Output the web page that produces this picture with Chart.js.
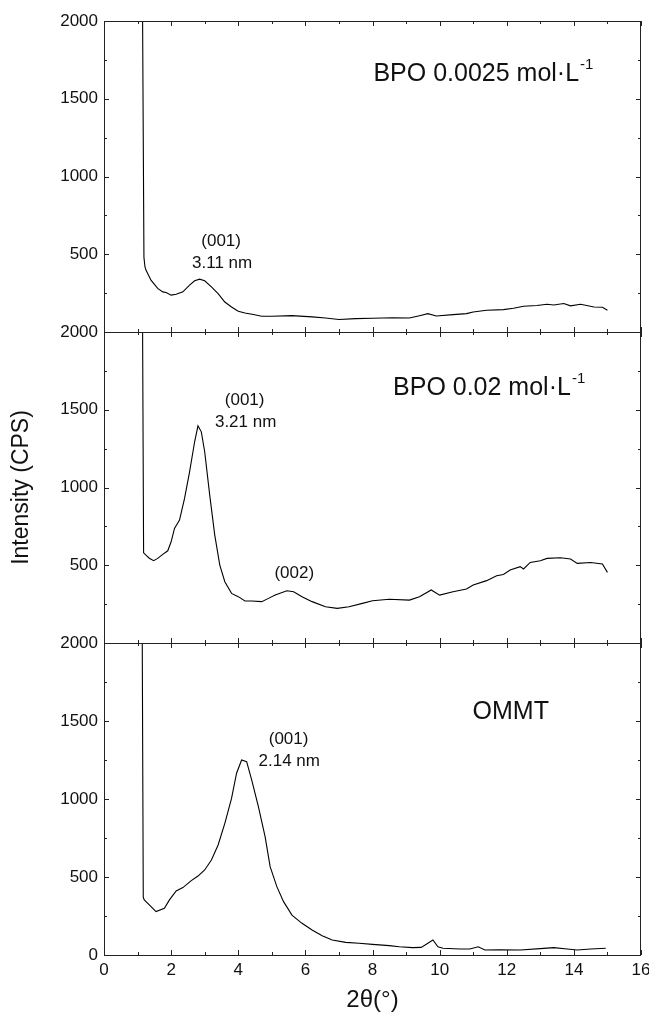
<!DOCTYPE html>
<html>
<head>
<meta charset="utf-8">
<script src="https://cdn.jsdelivr.net/npm/chart.js@4.4.1/dist/chart.umd.min.js"></script>
<style>
  html, body { margin: 0; padding: 0; background: #fff; }
  #wrap { position: relative; width: 649px; height: 1025px; }
  .painel { position: absolute; left: 0; width: 649px; }
</style>
</head>
<body>
<div id="wrap">
  <div class="painel" style="top:0px"><canvas id="p1" width="649" height="345"></canvas></div>
  <div class="painel" style="top:312px"><canvas id="p2" width="649" height="345"></canvas></div>
  <div class="painel" style="top:623px"><canvas id="p3" width="649" height="402"></canvas></div>
</div>
<script>
// =========================================================
// 1. DADOS
// =========================================================
const FONTE = "'Liberation Sans', Arial, Helvetica, sans-serif";
const TINTA = '#111';

// BPO 0.0025 mol/L
const theta1 = [1.15, 1.19, 1.22, 1.25, 1.4, 1.6, 1.75, 1.85, 2.0, 2.15, 2.35, 2.55, 2.7, 2.85, 3.0, 3.2, 3.4, 3.6, 3.8, 4.0,
  4.2, 4.45, 4.7, 5.0, 5.6, 6.2, 6.6, 7.0, 7.5, 8.0, 8.6, 9.1, 9.4, 9.65, 9.9, 10.4, 10.8, 11.0, 11.4, 11.9,
  12.2, 12.5, 12.9, 13.2, 13.4, 13.7, 13.9, 14.2, 14.6, 14.85, 15.0];
const cps1 = [2000, 480, 420, 398, 333, 280, 258, 254, 237, 243, 258, 301, 329, 340, 329, 290, 247, 193, 161, 133,
  122, 112, 101, 101, 105, 97, 90, 80, 86, 88, 92, 90, 105, 118, 103, 112, 118, 129, 140, 144,
  153, 166, 170, 178, 174, 183, 168, 178, 161, 159, 140];

// BPO 0.02 mol/L
const theta2 = [1.15, 1.18, 1.25, 1.35, 1.48, 1.6, 1.75, 1.9, 2.0, 2.1, 2.25, 2.4, 2.55, 2.7, 2.8, 2.9, 3.0, 3.15, 3.3, 3.45,
  3.6, 3.8, 4.0, 4.2, 4.4, 4.7, 4.9, 5.1, 5.45, 5.65, 5.9, 6.2, 6.6, 6.95, 7.3, 7.7, 8.0, 8.5, 9.1, 9.4,
  9.75, 10.0, 10.4, 10.8, 11.0, 11.4, 11.7, 11.9, 12.1, 12.4, 12.5, 12.7, 13.0, 13.2, 13.6, 13.9, 14.1, 14.5, 14.85, 15.0];
const cps2 = [2000, 580, 565, 545, 529, 544, 570, 593, 651, 737, 790, 930, 1101, 1294, 1397, 1358, 1230, 951, 694, 501,
  394, 319, 298, 270, 270, 266, 287, 308, 336, 330, 298, 266, 233, 223, 233, 255, 272, 281, 276, 298,
  341, 308, 330, 347, 373, 401, 433, 441, 469, 491, 476, 518, 529, 544, 548, 540, 512, 518, 508, 454];

// OMMT
const theta3 = [1.14, 1.17, 1.2, 1.35, 1.55, 1.8, 1.95, 2.15, 2.35, 2.6, 2.8, 3.0, 3.2, 3.4, 3.6, 3.8, 3.95, 4.1, 4.25, 4.4,
  4.6, 4.8, 4.95, 5.15, 5.35, 5.6, 5.9, 6.2, 6.5, 6.8, 7.2, 7.6, 8.0, 8.5, 8.8, 9.2, 9.45, 9.65, 9.8, 9.95,
  10.1, 10.6, 10.9, 11.15, 11.35, 11.8, 12.4, 13.0, 13.4, 13.8, 14.1, 14.5, 14.95];
const cps3 = [2000, 370, 353, 321, 278, 299, 353, 410, 432, 477, 506, 545, 609, 705, 844, 1004, 1165, 1250, 1239, 1122,
  951, 759, 566, 438, 342, 256, 203, 160, 124, 96, 81, 75, 68, 60, 53, 47, 49, 75, 96, 53,
  43, 38, 38, 53, 32, 34, 32, 41, 47, 38, 32, 38, 43];

// textos de cada painel: [texto, 2theta, cps, tamanho, expoente]
const notas1 = [['BPO 0.0025 mol·L', 11.29, 1669, 25, '-1'], ['(001)', 3.49, 592, 17], ['3.11 nm', 3.52, 450, 17]];
const notas2 = [['BPO 0.02 mol·L', 11.46, 1655, 25, '-1'], ['(001)', 4.19, 1568, 17], ['3.21 nm', 4.22, 1428, 17], ['(002)', 5.67, 460, 17]];
const notas3 = [['OMMT', 12.12, 1570, 25], ['(001)', 5.5, 1392, 17], ['2.14 nm', 5.52, 1252, 17]];

// =========================================================
// 2. PLUGIN: MOLDURA, TICKS PARA DENTRO E TEXTOS
// =========================================================
const moldura = {
  id: 'moldura',
  afterDraw(chart, args, opts) {
    const { ctx, chartArea: a, scales: { x, y } } = chart;
    ctx.save();
    ctx.strokeStyle = '#222';
    ctx.lineWidth = 1;
    ctx.strokeRect(a.left + 0.5, a.top + 0.5, a.right - a.left - 1, a.bottom - a.top);

    ctx.beginPath();
    for (let v = 0; v <= 2000; v += 250) {
      const py = Math.round(y.getPixelForValue(v)) + 0.5;
      const len = v % 500 === 0 ? 5 : 3;
      ctx.moveTo(a.left, py); ctx.lineTo(a.left + len, py);
      ctx.moveTo(a.right, py); ctx.lineTo(a.right - len, py);
    }
    for (let v = 0; v <= 16; v++) {
      const px = Math.round(x.getPixelForValue(v)) + 0.5;
      const len = v % 2 === 0 ? 5 : 3;
      ctx.moveTo(px, a.bottom); ctx.lineTo(px, a.bottom - len);
      ctx.moveTo(px, a.top); ctx.lineTo(px, a.top + len);
    }
    ctx.stroke();

    // textos centrados no ponto (altura das maiusculas)
    ctx.fillStyle = TINTA;
    ctx.textBaseline = 'alphabetic';
    ctx.textAlign = 'left';
    (opts.notas || []).forEach(([txt, tx, ty, tam, sup]) => {
      ctx.font = tam + 'px ' + FONTE;
      const w = ctx.measureText(txt).width;
      const tamSup = 15;
      let wSup = 0;
      if (sup) {
        ctx.font = tamSup + 'px ' + FONTE;
        wSup = ctx.measureText(sup).width;
      }
      const cx = x.getPixelForValue(tx);
      const base = y.getPixelForValue(ty) + tam * 0.716 / 2;
      const x0 = cx - (w + wSup) / 2;
      ctx.font = tam + 'px ' + FONTE;
      ctx.fillText(txt, x0, base);
      if (sup) {
        ctx.font = tamSup + 'px ' + FONTE;
        ctx.fillText(sup, x0 + w + 1, base - 12);
      }
    });
    ctx.restore();
  }
};

// =========================================================
// 3. MONTAGEM DOS PAINEIS
// =========================================================
function montarPainel(id, thetas, valores, notas, padTopo, padBase, ultimo, comTituloY) {
  const pontos = thetas.map((t, i) => ({ x: t, y: valores[i] }));

  return new Chart(document.getElementById(id), {
    type: 'line',
    data: {
      datasets: [{
        data: pontos,
        borderColor: '#000',
        borderWidth: 1.1,
        pointRadius: 0,
        tension: 0,
        fill: false
      }]
    },
    options: {
      responsive: false,
      animation: false,
      layout: { padding: { top: padTopo, right: 8, left: 0, bottom: padBase } },
      plugins: {
        legend: { display: false },
        tooltip: { enabled: false },
        moldura: { notas: notas }
      },
      scales: {
        x: {
          type: 'linear',
          min: 0,
          max: 16,
          display: ultimo,
          grid: { display: false, drawTicks: false },
          border: { display: false },
          ticks: { stepSize: 2, padding: 5, color: TINTA, font: { family: FONTE, size: 17 } },
          title: {
            display: ultimo,
            text: '2θ(°)',
            color: TINTA,
            font: { family: FONTE, size: 24 },
            padding: { top: 0, bottom: 10 }
          },
          // so o painel de baixo tem eixo x visivel
          afterFit: (s) => { s.height = ultimo ? 70 : 0; s.paddingLeft = 0; s.paddingRight = 0; }
        },
        y: {
          min: 0,
          max: 2000,
          grid: { display: false, drawTicks: false },
          border: { display: false },
          ticks: {
            stepSize: 500,
            padding: 6,
            color: TINTA,
            font: { family: FONTE, size: 17 },
            callback: (v) => (v === 0 && !ultimo) ? '' : v
          },
          title: {
            display: comTituloY,
            text: 'Intensity (CPS)',
            color: TINTA,
            font: { family: FONTE, size: 23 },
            padding: { top: 8, bottom: 0 }
          },
          afterFit: (s) => { s.width = 104; s.paddingTop = 0; s.paddingBottom = 0; }
        }
      }
    },
    plugins: [moldura]
  });
}

montarPainel('p1', theta1, cps1, notas1, 21, 13, false, false);
montarPainel('p2', theta2, cps2, notas2, 20, 14, false, true);
montarPainel('p3', theta3, cps3, notas3, 20, 0, true, false);
</script>
</body>
</html>
